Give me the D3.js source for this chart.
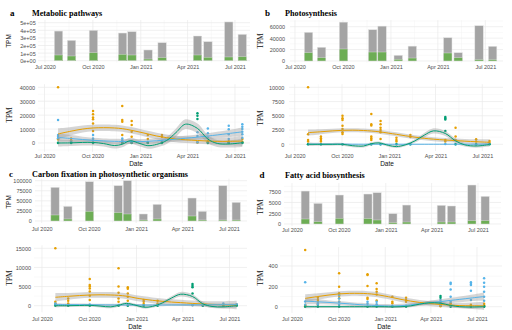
<!DOCTYPE html>
<html><head><meta charset="utf-8">
<script src="https://cdn.jsdelivr.net/npm/d3@7"></script>
<style>body{margin:0;background:#fff} svg{display:block}</style>
</head><body>
<svg id="c" width="512" height="330"></svg>
<script>
// ---------- DATA ----------
const sampleDates = ["2020-07-27","2020-08-21","2020-10-02","2020-11-27","2020-12-15","2021-01-15","2021-02-11","2021-04-20","2021-05-10","2021-06-19","2021-07-15"];
const smoothDates = ["2020-07-27","2020-08-21","2020-09-12","2020-10-02","2020-10-22","2020-11-12","2020-11-27","2020-12-12","2020-12-31","2021-01-15","2021-02-01","2021-02-20","2021-03-10","2021-03-28","2021-04-20","2021-05-10","2021-05-28","2021-06-19","2021-07-15"];
const xTickDates = ["2020-07-01","2020-10-01","2021-01-01","2021-04-01","2021-07-01"];
const xTickLabels = ["Jul 2020","Oct 2020","Jan 2021","Apr 2021","Jul 2021"];
const panelLetters = ["a","b","c","d"];
const panelTitles = ["Metabolic pathways","Photosynthesis","Carbon fixation in photosynthetic organisms","Fatty acid biosynthesis"];

// bar totals (grey) and green portion
const metabolicTotal = [390000,268000,400000,364000,382000,141000,237000,325000,250000,510000,347000];
const metabolicGreen = [75000,62000,105000,84000,75000,22000,40000,75000,45000,49000,53000];
const photoTotal = [50200,24000,68000,54700,61000,10000,26000,40700,14500,61700,25700];
const photoGreen = [14500,5800,21000,15700,15700,3000,5200,14000,5800,2300,2300];
const carbonTotal = [83500,36400,97500,87600,100000,17400,41300,57000,24000,87600,46300];
const carbonGreen = [14900,5000,24000,20700,17400,2500,5000,12400,2500,2500,2500];
const fattyTotal = [7650,4790,6730,6960,7270,2400,4400,4330,4180,9050,6420];
const fattyGreen = [1160,540,1310,1240,930,310,460,460,460,770,770];

// y ticks
const metabolicBarTicks = [0,100000,200000,300000,400000,500000];
const metabolicBarLabels = ["0e+00","1e+05","2e+05","3e+05","4e+05","5e+05"];
const photoBarTicks = [0,20000,40000,60000];
const carbonBarTicks = [0,25000,50000,75000,100000];
const fattyBarTicks = [0,2500,5000,7500];
const metabolicLineTicks = [0,10000,20000,30000,40000];
const photoLineTicks = [0,2500,5000,7500,10000];
const carbonLineTicks = [0,5000,10000,15000];
const fattyLineTicks = [0,200,400];

// points per sampling date
const metabolicOrangePts = [[40000,3000,2500],[3300,2000],[23000,20600,18400,17000,14000,8600],[26600,16500,15300,5700],[15800,13000,8100,4500],[5700,2900],[5700,4500],[600,300],[1500,800],[1200,600],[2900,900]];
const metabolicBluePts = [[16500,5700,4500,3500],[1000,500],[5700,3300,2000],[3300,2000,1000],[1000,500],[800,300],[1500,800],[7700,5000,500],[10500,7000,3800],[12400,9800,6200,2900,500],[13400,11700,10000,8100,6200,3800]];
const metabolicGreenPts = [[0,200],[0,100],[200,0],[0,300],[0,200],[0,100],[0,200],[21300,19600,17200],[0,300],[0,100],[0,300]];
const photoOrangePts = [[10000,1750,760,470],[1350,1050,760,470],[5000,4560,4270,3270,2700,2100,1800],[5300,3500,3300,1350,1050,760],[4100,3500,2900,2500,2100,940],[1170,760,470],[1640,1300],[760,470],[2900,1350,760],[880,470],[580,290]];
const photoBluePts = [[30],[20],[20],[20],[20],[10],[10],[50],[20],[20],[60]];
const photoGreenPts = [[0],[0],[0],[0],[0],[0],[0],[4800,4560,4330,2340],[0],[0],[0]];
const carbonOrangePts = [[15000,1050,600],[1900,1300,600],[7000,5400,5000,4500,3700,2600,1500],[9800,5000,3400,1900,1050],[4800,4400,3200,2350,1300],[1500,1050,450],[1300,600],[200],[150],[100],[300]];
const carbonBluePts = [[600,300],[200],[300],[200],[200],[100],[100],[100],[100],[600],[400,200]];
const carbonGreenPts = [[0],[0],[0],[0],[0],[0],[0],[5700,5200,4800,3200],[0],[0],[0]];
const fattyOrangePts = [[557,16,10,5],[89,66,49,20],[328,197,131,108,82,49],[318,311,203,89,75],[230,174,148,121,60],[98,49,33],[89,66,49],[10,5],[33,15],[20,10],[30,15]];
const fattyBluePts = [[240,50,20],[33,20],[115,80,49,20],[49,30],[49,25],[10],[10],[66,20],[236,223,170,98,49],[240,223,213,157,66],[279,236,197,148,98,59]];
const fattyGreenPts = [[0],[0],[0],[0],[0],[0],[0],[105,89,40],[0],[0],[0,5]];

// smooth fits (value, half-width of band) at smoothDates
const metabolicOrangeFit = [6500,8500,10000,10800,11000,10800,10300,9300,7800,6500,5000,3800,2900,2300,1800,1400,1200,1200,1400];
const metabolicOrangeSe  = [4000,3000,2500,2300,2300,2300,2300,2300,2300,2300,2300,2300,2300,2300,2300,2300,2400,2800,3500];
const metabolicBlueFit = [4000,3200,2500,1900,1500,1200,1100,1000,1000,1200,1600,2200,2800,3400,4200,5000,5800,6800,8000];
const metabolicBlueSe  = [3000,2500,2000,1800,1800,1800,1800,1800,1800,1800,1800,1800,1800,1800,1900,2000,2200,2600,3200];
const metabolicGreenFit = [0,100,400,400,-400,-1800,-900,1600,-400,-1900,-1000,1800,7500,13500,10500,2800,-300,-700,200];
const metabolicGreenSe  = [2500,2200,2200,2200,2200,2200,2200,2200,2200,2200,2200,2500,3000,3500,3500,3000,2500,2500,3000];
const photoOrangeFit = [2050,2200,2350,2450,2480,2420,2330,2200,1950,1750,1500,1250,1050,900,750,650,550,450,350];
const photoOrangeSe  = [550,450,380,350,350,350,350,350,350,350,350,350,350,350,350,350,380,430,520];
const photoBlueFit = [40,35,30,25,20,18,16,15,14,14,14,15,16,18,20,22,24,27,30];
const photoBlueSe  = [60,50,50,50,50,50,50,50,50,50,50,50,50,50,50,50,50,50,60];
const photoGreenFit = [0,0,0,0,-250,-300,100,250,-200,-400,-100,600,1600,2350,1900,600,-100,-300,-50];
const photoGreenSe  = [300,250,250,250,250,250,250,250,250,250,250,300,400,450,450,400,300,300,350];
const carbonOrangeFit = [2200,2450,2650,2800,2850,2800,2700,2500,2000,1700,1400,1150,950,800,600,450,350,250,170];
const carbonOrangeSe  = [1100,900,800,750,750,750,750,750,750,750,750,750,750,750,750,750,800,900,1100];
const carbonBlueFit = [300,280,260,240,220,200,190,180,170,170,170,180,190,200,220,240,260,280,300];
const carbonBlueSe  = [350,300,300,300,300,300,300,300,300,300,300,300,300,300,300,300,300,300,350];
const carbonGreenFit = [0,0,50,100,-100,-300,100,600,100,-400,-200,700,2000,3000,2400,500,-200,-300,0];
const carbonGreenSe  = [400,350,350,350,350,350,350,350,350,350,350,400,500,600,600,500,400,400,450];
const fattyOrangeFit = [82,100,115,126,131,131,128,121,105,90,72,55,42,32,22,15,11,9,8];
const fattyOrangeSe  = [40,32,27,25,25,25,25,25,25,25,25,25,25,25,25,25,27,32,40];
const fattyBlueFit = [55,48,42,35,28,20,16,12,8,7,10,18,28,38,50,62,72,85,100];
const fattyBlueSe  = [30,25,20,18,18,18,18,18,18,18,18,18,18,20,22,25,28,32,40];
const fattyGreenFit = [0,0,0,0,0,0,0,0,0,-2,0,8,25,38,35,12,0,-3,0];
const fattyGreenSe  = [15,12,12,12,12,12,12,12,12,12,12,14,16,18,18,16,14,14,16];

// ---------- STYLE / LAYOUT ----------
const COL = {orange:"#E69F00", blue:"#56B4E9", green:"#009E73", bar:"#A4A4A4", barGreen:"#6DAD55"};
const L = {
  aBar:  {gx:[38,250], j20:45,   j21:235,   y0:60.7,  yt:[500000,22.7], lr:35.7,  xl:68.7,  tpm:[11,41,"sans"]},
  aLine: {gx:[38,250], j20:44.5, j21:235,   y0:143,   yt:[40000,87.3],  lr:35,    xl:157.6, tpm:[12,115,"serif"], date:[136,165.5]},
  bBar:  {gx:[290,503],j20:295,  j21:485.3, y0:61,    yt:[60000,26.7],  lr:285,   xl:68.7,  tpm:[263,41,"serif"]},
  bLine: {gx:[289,503],j20:294.7,j21:482.3, y0:144.3, yt:[10000,87.3],  lr:284.3, xl:157.6, tpm:[263,118,"serif"], date:[387,165.5]},
  cBar:  {gx:[35,247], j20:41.7, j21:229,   y0:221,   yt:[100000,180.7],lr:31.7,  xl:230.5, tpm:[11,202,"sans"]},
  cLine: {gx:[34,247], j20:42,   j21:229.5, y0:305.7, yt:[15000,248.3], lr:31,    xl:321,   tpm:[12,278,"serif"], date:[135,328.5]},
  dBar:  {gx:[284,501],j20:292,  j21:478,   y0:224,   yt:[7500,191.7],  lr:281,   xl:232,   tpm:[263,207,"serif"]},
  dLine: {gx:[280,502],j20:292,  j21:477,   y0:306.7, yt:[400,266],     lr:277.7, xl:321,   tpm:[263,278,"serif"], date:[384,328.5]}
};
const titlePos = [[10,15.7,32,15.7],[265,15.7,285,15.7],[9,177.3,32,177.3],[259.5,178.3,285,178.3]];
const SANS = "'Liberation Sans', Arial, sans-serif";
const SERIF = "'Liberation Serif', 'Times New Roman', serif";
const BAR_DAYS = 16.2;

const svg = d3.select("#c");
const parse = d3.utcParse("%Y-%m-%d");
const sDates = sampleDates.map(parse);
const fDates = smoothDates.map(parse);
const majors = xTickDates.map(parse);
const minors = d3.pairs(majors).map(([a,b]) => new Date((+a + +b)/2));

function scales(lay){
  const x = d3.scaleUtc().domain([parse("2020-07-01"), parse("2021-07-01")]).range([lay.j20, lay.j21]);
  const y = d3.scaleLinear().domain([0, lay.yt[0]]).range([lay.y0, lay.yt[1]]);
  return {x, y};
}

function frame(g, lay, x, y, lo, hi, ticks, labels){
  const span = hi - lo; const dlo = lo - 0.05*span, dhi = hi + 0.05*span;
  const yb = y(dlo), ytp = y(dhi);
  const step = ticks[1]-ticks[0];
  const minorY = [ticks[0]-step/2, ...ticks.map(t=>t+step/2)].filter(v => v>dlo && v<dhi);
  const gg = g.append("g");
  gg.selectAll(".hm").data(minorY).join("line").attr("x1",lay.gx[0]).attr("x2",lay.gx[1])
    .attr("y1",d=>y(d)).attr("y2",d=>y(d)).attr("stroke","#f3f3f3").attr("stroke-width",0.5);
  gg.selectAll(".vm").data(minors).join("line").attr("x1",d=>x(d)).attr("x2",d=>x(d))
    .attr("y1",yb).attr("y2",ytp).attr("stroke","#f3f3f3").attr("stroke-width",0.5);
  gg.selectAll(".hM").data(ticks).join("line").attr("x1",lay.gx[0]).attr("x2",lay.gx[1])
    .attr("y1",d=>y(d)).attr("y2",d=>y(d)).attr("stroke","#e9e9e9").attr("stroke-width",0.7);
  gg.selectAll(".vM").data(majors).join("line").attr("x1",d=>x(d)).attr("x2",d=>x(d))
    .attr("y1",yb).attr("y2",ytp).attr("stroke","#e9e9e9").attr("stroke-width",0.7);
  // axes
  const ya = g.append("g").attr("transform",`translate(${lay.lr},0)`)
    .call(d3.axisLeft(y).tickValues(ticks).tickSize(0).tickPadding(0).tickFormat((d,i)=>labels ? labels[i] : String(d)));
  ya.select(".domain").remove();
  ya.selectAll("text").attr("x",0).attr("dy","0.35em").attr("font-family",SANS).attr("font-size",5.5).attr("fill","#4d4d4d");
  const xa = g.append("g").attr("transform",`translate(0,${lay.xl})`)
    .call(d3.axisBottom(x).tickValues(majors).tickSize(0).tickPadding(0).tickFormat((d,i)=>xTickLabels[i]));
  xa.select(".domain").remove();
  xa.selectAll("text").attr("y",0).attr("dy",0).attr("font-family",SANS).attr("font-size",5.5).attr("fill","#4d4d4d");
  // TPM
  const [tx,ty,ff] = lay.tpm;
  g.append("text").attr("transform",`translate(${tx},${ty}) rotate(-90)`).attr("text-anchor","middle")
    .attr("font-family", ff==="sans"?SANS:SERIF).attr("font-size", ff==="sans"?6.5:7.5).attr("fill","#111").text("TPM");
  if (lay.date) g.append("text").attr("x",lay.date[0]).attr("y",lay.date[1]).attr("text-anchor","middle")
    .attr("font-family",SANS).attr("font-size",6.5).attr("fill","#111").text("Date");
}

function drawBar(lay, total, green, ticks, labels){
  const g = svg.append("g");
  const {x,y} = scales(lay);
  frame(g, lay, x, y, 0, d3.max(total), ticks, labels);
  const half = BAR_DAYS/2*864e5;
  const bw = d => x(new Date(+d+half)) - x(new Date(+d-half));
  g.selectAll(".bt").data(total).join("rect")
    .attr("x",(d,i)=>x(new Date(+sDates[i]-half))).attr("width",(d,i)=>bw(sDates[i]))
    .attr("y",d=>y(d)).attr("height",d=>y(0)-y(d)).attr("fill",COL.bar).attr("stroke","#e4e4e4").attr("stroke-width",0.5);
  g.selectAll(".bg").data(green).join("rect")
    .attr("x",(d,i)=>x(new Date(+sDates[i]-half))).attr("width",(d,i)=>bw(sDates[i]))
    .attr("y",d=>y(d)).attr("height",d=>y(0)-y(d)).attr("fill",COL.barGreen).attr("stroke","#e4e4e4").attr("stroke-width",0.4);
}

function drawLine(lay, series, ticks){
  const g = svg.append("g");
  const {x,y} = scales(lay);
  const allPts = series.flatMap(s => s.pts.flat());
  const lows = series.flatMap(s => s.fit.map((v,i)=>v - s.se[i]));
  frame(g, lay, x, y, Math.min(0, d3.min(lows)), d3.max(allPts), ticks, null);
  series.forEach(s => {
    const pts = s.pts.flatMap((arr,i)=>arr.map(v=>({d:sDates[i], v})));
    g.append("g").selectAll("circle").data(pts).join("circle")
      .attr("cx",p=>x(p.d)).attr("cy",p=>y(p.v)).attr("r",1.25).attr("fill",s.col);
  });
  const curve = d3.curveCatmullRom.alpha(0.5);
  series.forEach(s => {
    const area = d3.area().x((d,i)=>x(fDates[i])).y0((d,i)=>y(d - s.se[i])).y1((d,i)=>y(d + s.se[i])).curve(curve);
    g.append("path").attr("d", area(s.fit)).attr("fill","#999").attr("fill-opacity",0.4);
  });
  series.forEach(s => {
    const line = d3.line().x((d,i)=>x(fDates[i])).y(d=>y(d)).curve(curve);
    g.append("path").attr("d", line(s.fit)).attr("fill","none").attr("stroke",s.col).attr("stroke-width",1);
  });
}

// titles
panelTitles.forEach((t,i)=>{
  const p = titlePos[i];
  svg.append("text").attr("x",p[0]).attr("y",p[1]).attr("font-family",SERIF).attr("font-weight","bold").attr("font-size",9).text(panelLetters[i]);
  svg.append("text").attr("x",p[2]).attr("y",p[3]).attr("font-family",SERIF).attr("font-weight","bold").attr("font-size",8.2).text(t);
});

drawBar(L.aBar, metabolicTotal, metabolicGreen, metabolicBarTicks, metabolicBarLabels);
drawBar(L.bBar, photoTotal, photoGreen, photoBarTicks, null);
drawBar(L.cBar, carbonTotal, carbonGreen, carbonBarTicks, null);
drawBar(L.dBar, fattyTotal, fattyGreen, fattyBarTicks, null);

drawLine(L.aLine, [
  {pts:metabolicOrangePts, fit:metabolicOrangeFit, se:metabolicOrangeSe, col:COL.orange},
  {pts:metabolicBluePts, fit:metabolicBlueFit, se:metabolicBlueSe, col:COL.blue},
  {pts:metabolicGreenPts, fit:metabolicGreenFit, se:metabolicGreenSe, col:COL.green}], metabolicLineTicks);
drawLine(L.bLine, [
  {pts:photoOrangePts, fit:photoOrangeFit, se:photoOrangeSe, col:COL.orange},
  {pts:photoBluePts, fit:photoBlueFit, se:photoBlueSe, col:COL.blue},
  {pts:photoGreenPts, fit:photoGreenFit, se:photoGreenSe, col:COL.green}], photoLineTicks);
drawLine(L.cLine, [
  {pts:carbonOrangePts, fit:carbonOrangeFit, se:carbonOrangeSe, col:COL.orange},
  {pts:carbonBluePts, fit:carbonBlueFit, se:carbonBlueSe, col:COL.blue},
  {pts:carbonGreenPts, fit:carbonGreenFit, se:carbonGreenSe, col:COL.green}], carbonLineTicks);
drawLine(L.dLine, [
  {pts:fattyOrangePts, fit:fattyOrangeFit, se:fattyOrangeSe, col:COL.orange},
  {pts:fattyBluePts, fit:fattyBlueFit, se:fattyBlueSe, col:COL.blue},
  {pts:fattyGreenPts, fit:fattyGreenFit, se:fattyGreenSe, col:COL.green}], fattyLineTicks);
</script>
</body></html>
